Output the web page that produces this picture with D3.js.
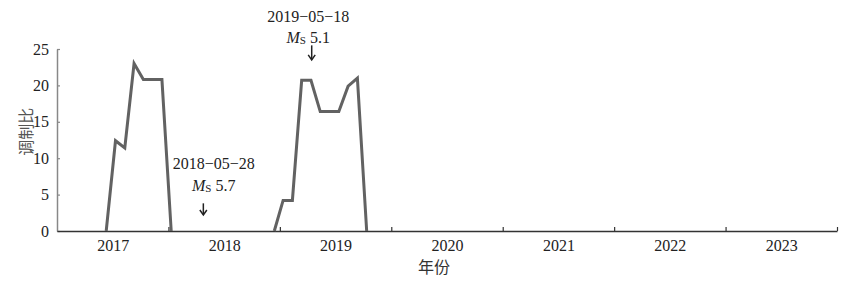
<!DOCTYPE html>
<html>
<head>
<meta charset="utf-8">
<script src="https://cdn.jsdelivr.net/npm/d3@7"></script>
<style>
  body { margin: 0; background: #fff; }
  text { font-family: "Liberation Serif", "DejaVu Serif", serif; }
  .cjk { font-family: "Noto Sans CJK SC", sans-serif; }
</style>
</head>
<body>
<div id="chart"></div>
<script>
// Data (x in months since 2017-01)
let years = ['2017', '2018', '2019', '2020', '2021', '2022', '2023'];
let yTicks = [0, 5, 10, 15, 20, 25];
let seg1Months = [5.3, 6.3, 7.3, 8.3, 9.3, 10.3, 11.3, 12.3];
let seg1Values = [0, 12.4, 11.4, 23.0, 20.8, 20.8, 20.8, 0];
let seg2Months = [23.4, 24.35, 25.35, 26.35, 27.35, 28.35, 29.35, 30.35, 31.35, 32.35, 33.35];
let seg2Values = [0, 4.2, 4.2, 20.7, 20.7, 16.4, 16.4, 16.4, 19.9, 21.0, 0];
let quakeDates = ['2018−05−28', '2019−05−18'];
let quakeMags = ['5.7', '5.1'];
let quakeMonths = [15.76, 27.43];

// Dimensions
let W = 847, H = 282;
let margin = { left: 57, right: 10, top: 49, bottom: 51 };

// Scales
let x = d3.scaleLinear()
  .domain([0, years.length * 12])
  .range([margin.left, margin.left + 780]);
let y = d3.scaleLinear()
  .domain([0, 25])
  .range([H - margin.bottom, margin.top]);

// SVG
let svg = d3.select('#chart')
  .append('svg')
  .attr('width', W)
  .attr('height', H);

// Axes
let yAxis = svg.append('g')
  .attr('transform', `translate(${margin.left},0)`)
  .call(d3.axisLeft(y).tickValues(yTicks).tickSizeInner(-3).tickSizeOuter(0).tickPadding(8));
yAxis.select('.domain').attr('stroke', '#888').attr('stroke-width', 1.5);
yAxis.selectAll('.tick line').attr('stroke', '#888').attr('stroke-width', 1.2);
yAxis.selectAll('text').attr('font-size', 16).attr('fill', '#222')
  .style('font-family', '"Liberation Serif", serif');

let xAxis = svg.append('g')
  .attr('transform', `translate(0,${y(0)})`)
  .call(d3.axisBottom(x).tickValues(years.map((d, i) => (i + 1) * 12))
    .tickSizeInner(-4).tickSizeOuter(0).tickFormat(''));
xAxis.select('.domain').attr('stroke', '#333').attr('stroke-width', 1.5);
xAxis.selectAll('.tick line').attr('stroke', '#333').attr('stroke-width', 1.2);

let xLabels = svg.append('g')
  .attr('transform', `translate(0,${y(0)})`)
  .call(d3.axisBottom(x).tickValues(years.map((d, i) => i * 12 + 6))
    .tickSize(0).tickPadding(9).tickFormat((d, i) => years[i]));
xLabels.select('.domain').remove();
xLabels.selectAll('text').attr('font-size', 16).attr('fill', '#222')
  .style('font-family', '"Liberation Serif", serif');

// Lines
let line = d3.line()
  .x(d => x(d[0]))
  .y(d => y(d[1]));
[[seg1Months, seg1Values], [seg2Months, seg2Values]].forEach(([ms, vs]) => {
  svg.append('path')
    .datum(ms.map((m, i) => [m, vs[i]]))
    .attr('fill', 'none')
    .attr('stroke', '#626262')
    .attr('stroke-width', 3)
    .attr('stroke-linejoin', 'miter')
    .attr('d', line);
});

// Earthquake annotations
let arrowTop = [3.8, 25.5], arrowBottom = [2.2, 23.5];
let textMonth = [16.88, 27.06], textValue = [5.5, 25.8];
quakeDates.forEach((d, i) => {
  let ax = x(quakeMonths[i]);
  let y1 = y(arrowTop[i]), y2 = y(arrowBottom[i]);
  svg.append('line')
    .attr('x1', ax).attr('x2', ax)
    .attr('y1', y1).attr('y2', y2 - 0.5)
    .attr('stroke', '#222').attr('stroke-width', 1.5);
  svg.append('path')
    .attr('d', `M${ax - 3.5},${y2 - 5}L${ax},${y2}L${ax + 3.5},${y2 - 5}`)
    .attr('fill', 'none').attr('stroke', '#222').attr('stroke-width', 1.5);

  let tx = x(textMonth[i]), ty = y(textValue[i]);
  svg.append('text')
    .attr('x', tx).attr('y', ty - 21.5)
    .attr('text-anchor', 'middle')
    .attr('font-size', 16).attr('fill', '#222')
    .text(d);
  let t = svg.append('text')
    .attr('x', tx).attr('y', ty)
    .attr('text-anchor', 'middle')
    .attr('font-size', 16).attr('fill', '#222');
  t.append('tspan').attr('font-style', 'italic').text('M');
  t.append('tspan').attr('font-size', 11).attr('dy', 1).text('S');
  t.append('tspan').attr('dy', -1).text(' ' + quakeMags[i]);
});

// Labels
svg.append('text')
  .attr('class', 'cjk')
  .attr('transform', `translate(26,${131.7}) rotate(-90)`)
  .attr('text-anchor', 'middle')
  .attr('dy', '0.35em')
  .attr('font-size', 16)
  .attr('fill', '#555')
  .text('调制比');
svg.append('text')
  .attr('class', 'cjk')
  .attr('x', 434)
  .attr('y', 273)
  .attr('text-anchor', 'middle')
  .attr('font-size', 16)
  .attr('fill', '#333')
  .text('年份');
</script>
</body>
</html>
